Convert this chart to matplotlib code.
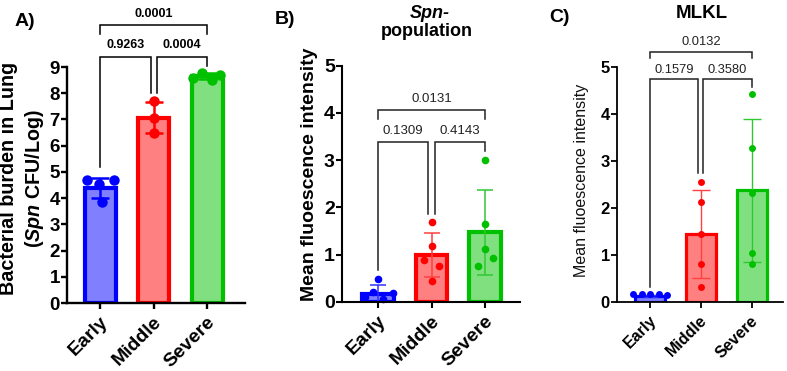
import matplotlib
matplotlib.use("Agg")
import matplotlib.pyplot as plt
import matplotlib.transforms as mtransforms
import numpy as np

plt.rcParams['font.family'] = ['Liberation Sans', 'DejaVu Sans']
plt.rcParams['mathtext.fontset'] = 'custom'
plt.rcParams['mathtext.rm'] = 'Liberation Sans'
plt.rcParams['mathtext.it'] = 'Liberation Sans:italic'
plt.rcParams['mathtext.bf'] = 'Liberation Sans:bold'
try:
    plt.rcParams['mathtext.bfit'] = 'Liberation Sans:italic:bold'
except KeyError:
    pass

# ---------------- data ----------------
groups = ["Early", "Middle", "Severe"]

# Panel A: bacterial burden
A_mean = [4.40, 7.07, 8.645]
A_sd = [0.38, 0.60, 0.12]
A_early = [4.70, 4.55, 4.70, 3.87]
A_middle = [7.70, 7.05, 6.50]
A_severe = [8.58, 8.79, 8.51, 8.70]
A_p = ["0.9263", "0.0004", "0.0001"]

# Panel B: Spn- population MFI
B_mean = [0.17, 0.99, 1.47]
B_sd = [0.18, 0.475, 0.90]
B_early = [0.48, 0.21, 0.19, 0.11, 0.05]
B_middle = [1.68, 1.17, 0.88, 0.76, 0.44]
B_severe = [3.00, 1.64, 1.12, 0.92, 0.76]
B_p = ["0.1309", "0.4143", "0.0131"]

# Panel C: MLKL MFI
C_mean = [0.13, 1.44, 2.37]
C_sd = [0.02, 0.93, 1.52]
C_early = [0.16, 0.17, 0.16, 0.17, 0.15]
C_middle = [2.55, 2.13, 1.44, 0.80, 0.31]
C_severe = [4.41, 3.28, 2.32, 1.04, 0.80]
C_p = ["0.1579", "0.3580", "0.0132"]

# ---------------- style ----------------
edge_cols = ['#0000FF', '#FF0000', '#00C000']
fill_cols = ['#8080FF', '#FF8080', '#80E080']
err_cols_light = ['#3030FF', '#FF4040', '#30C830']

W, H = 787, 371
fig = plt.figure(figsize=(W / 100, H / 100), dpi=100)


def px_axes(l, r, top, bottom):
    return fig.add_axes([l / W, 1 - bottom / H, (r - l) / W, (bottom - top) / H])


def bracket(ax, x1, x2, y, yl1, yl2, text, ty, fs, weight, color):
    ax.plot([x1, x1, x2, x2], [yl1, y, y, yl2], color=color, lw=1.1,
            solid_joinstyle='miter', clip_on=False, zorder=5)
    ax.text((x1 + x2) / 2, ty, text, ha='center', va='center', fontsize=fs,
            fontweight=weight, color=color, clip_on=False)


def panel(ax, means, sds, pts, jit, width, elw, ms, err_lw, capsize, err_cols,
          ylim, ytick_fs, xtick_fs, spine_lw, xshift):
    x = np.arange(3)
    for i in range(3):
        ax.bar(x[i], means[i], width=width, color=fill_cols[i], edgecolor=edge_cols[i],
               linewidth=elw, zorder=1)
        ax.errorbar(x[i], means[i], yerr=sds[i], fmt='none', ecolor=err_cols[i],
                    elinewidth=err_lw, capsize=capsize, capthick=err_lw, zorder=3,
                    clip_on=False)
        xs = x[i] + np.array(jit[i])
        ax.plot(xs, pts[i], 'o', color=edge_cols[i], ms=ms, mew=0, zorder=4,
                clip_on=False)
    ax.set_ylim(*ylim)
    for s in ['top', 'right']:
        ax.spines[s].set_visible(False)
    for s in ['left', 'bottom']:
        ax.spines[s].set_linewidth(spine_lw)
        ax.spines[s].set_zorder(6)
    ax.set_yticks(np.arange(ylim[0], ylim[1] + 1, 1))
    ax.tick_params(axis='y', length=4, width=spine_lw, labelsize=ytick_fs, pad=1)
    ax.tick_params(axis='x', length=4, width=spine_lw, pad=2)
    for lab in ax.get_yticklabels():
        lab.set_fontweight('bold')
    ax.set_xticks(x)
    ax.set_xticklabels(groups, rotation=45, ha='right', va='center',
                       rotation_mode='anchor', fontsize=xtick_fs, fontweight='bold')
    off = mtransforms.ScaledTranslation(xshift / 100, 0, fig.dpi_scale_trans)
    for lab in ax.get_xticklabels():
        lab.set_y(-0.035)
        lab.set_transform(lab.get_transform() + off)
    ax.patch.set_alpha(0)


# ---- Panel A ----
axA = px_axes(67, 245, 67, 303)
axA.set_xlim(-0.62, 2.71)
panel(axA, A_mean, A_sd, [A_early, A_middle, A_severe],
      [[-0.24, -0.02, 0.25, 0.03], [0, 0, 0], [-0.26, -0.09, 0.09, 0.24]],
      width=0.58, elw=3.0, ms=7.5, err_lw=1.8, capsize=6.5, err_cols=edge_cols,
      ylim=(0, 9), ytick_fs=13.5, xtick_fs=14, spine_lw=1.7, xshift=5)
bracket(axA, 0, 1 - 0.056, 9.4, 5.2, 8.0, A_p[0], 9.85, 9, 'bold', 'black')
bracket(axA, 1 + 0.056, 2, 9.4, 8.0, 9.05, A_p[1], 9.85, 9, 'bold', 'black')
bracket(axA, 0, 2, 10.6, 10.27, 10.27, A_p[2], 11.03, 9, 'bold', 'black')

fig.text(9 / W, 1 - 178.5 / H, "Bacterial burden in Lung", rotation=90,
         ha='center', va='center', fontsize=14.2, fontweight='bold')
fig.text(35 / W, 1 - 178.5 / H, r"($\mathbfit{Spn}$ CFU/Log)", rotation=90,
         ha='center', va='center', fontsize=14.2, fontweight='bold')
fig.text(25 / W, 1 - 22 / H, "A)", ha='center', va='center', fontsize=14,
         fontweight='bold')

# ---- Panel B ----
axB = px_axes(341.7, 520, 65.7, 301.7)
axB.set_xlim(-0.68, 2.65)
panel(axB, B_mean, B_sd, [B_early, B_middle, B_severe],
      [[0, -0.09, 0.27, -0.24, 0.1], [0, 0, -0.14, 0.14, 0], [0, 0, 0, 0.14, -0.14]],
      width=0.59, elw=3.0, ms=5.5, err_lw=1.1, capsize=6.0, err_cols=err_cols_light,
      ylim=(0, 5), ytick_fs=14, xtick_fs=14, spine_lw=1.5, xshift=5)
bracket(axB, 0, 1 - 0.062, 3.39, 0.67, 1.86, B_p[0], 3.62, 9.5, 'normal', '#222222')
bracket(axB, 1 + 0.062, 2, 3.39, 1.86, 3.19, B_p[1], 3.62, 9.5, 'normal', '#222222')
bracket(axB, 0, 2, 4.06, 3.87, 3.87, B_p[2], 4.29, 9.5, 'normal', '#222222')
fig.text(310 / W, 1 - 174.5 / H, "Mean fluoescence intensity", rotation=90,
         ha='center', va='center', fontsize=14, fontweight='bold')
fig.text(430 / W, 1 - 13 / H, "Spn-", ha='center', va='center', fontsize=13,
         fontweight='bold', fontstyle='italic')
fig.text(427 / W, 1 - 31 / H, "population", ha='center', va='center', fontsize=13,
         fontweight='bold')
fig.text(285 / W, 1 - 20 / H, "B)", ha='center', va='center', fontsize=14,
         fontweight='bold')

# ---- Panel C ----
axC = px_axes(616.7, 783, 66.7, 301.7)
axC.set_xlim(-0.66, 2.62)
panel(axC, C_mean, C_sd, [C_early, C_middle, C_severe],
      [[-0.33, -0.165, 0, 0.165, 0.33], [0, 0, 0, 0, 0], [0, 0, 0, 0, 0]],
      width=0.59, elw=2.3, ms=5.0, err_lw=1.0, capsize=6.5, err_cols=err_cols_light,
      ylim=(0, 5), ytick_fs=12, xtick_fs=11.5, spine_lw=1.3, xshift=4)
bracket(axC, 0, 1 - 0.05, 4.73, 0.32, 2.73, C_p[0], 4.94, 9.3, 'normal', '#222222')
bracket(axC, 1 + 0.05, 2, 4.73, 2.73, 4.57, C_p[1], 4.94, 9.3, 'normal', '#222222')
bracket(axC, 0, 2, 5.32, 5.18, 5.18, C_p[2], 5.53, 9.3, 'normal', '#222222')
fig.text(581.5 / W, 1 - 180 / H, "Mean fluoescence intensity", rotation=90,
         ha='center', va='center', fontsize=11.5, fontweight='normal', color='#111111')
fig.text(701.7 / W, 1 - 13 / H, "MLKL", ha='center', va='center', fontsize=13.5,
         fontweight='bold')
fig.text(560 / W, 1 - 18 / H, "C)", ha='center', va='center', fontsize=14,
         fontweight='bold')

fig.savefig("out.png", dpi=100)
